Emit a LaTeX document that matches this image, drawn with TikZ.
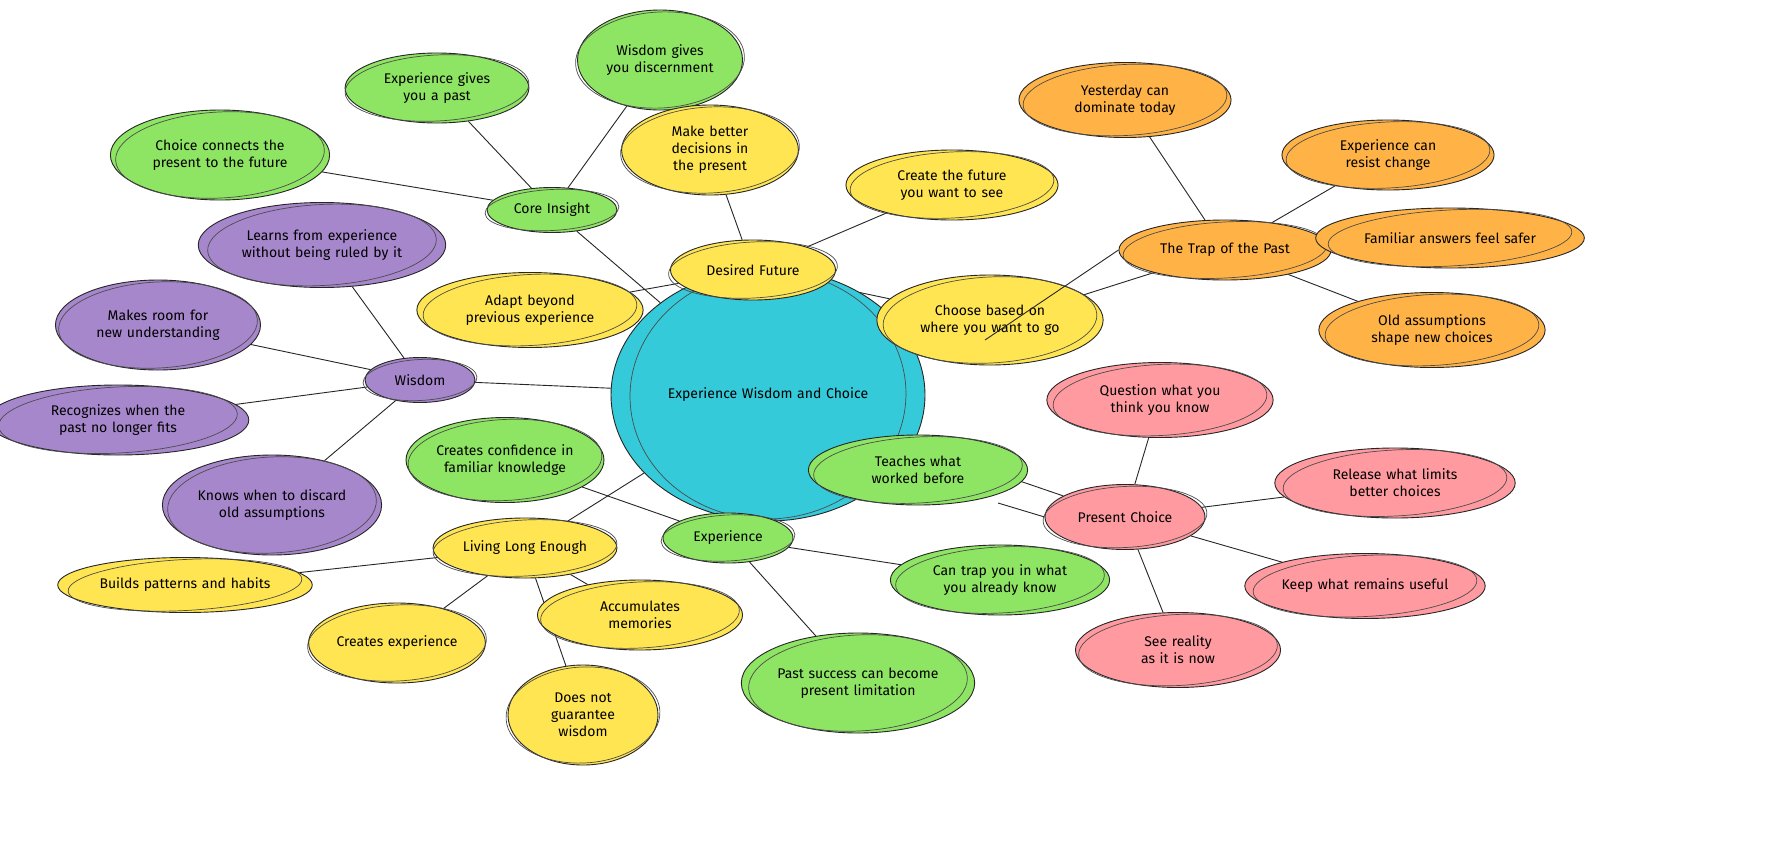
\documentclass[tikz,border=0pt]{standalone}
\usepackage{fontspec}
\usepackage[none]{hyphenat}
\setmainfont{Fira Sans}
\usetikzlibrary{shapes.geometric,backgrounds}
\definecolor{cg}{HTML}{8EE463}
\definecolor{cy}{HTML}{FFE552}
\definecolor{cp}{HTML}{A687CC}
\definecolor{co}{HTML}{FFB347}
\definecolor{cr}{HTML}{FF9AA0}
\definecolor{cc}{HTML}{35CAD9}
\tikzset{
  bub/.style={ellipse,draw=black!85,line width=0.9pt,inner sep=0pt,align=center,
    font=\fontsize{14}{17}\selectfont},
  link/.style={draw=black!85,line width=0.9pt}
}
\newcommand{\bub}[7]{%
  \node[bub,fill=#6,minimum width=#4,minimum height=#5,text width=#4-50] (#1) at (#2,#3) {#7};
  \draw[black!70,line width=0.7pt,rotate around={3:(#1.center)}] (#1.center) ellipse ({#4/2+2} and {#5/2-2});
}
\begin{document}
\begin{tikzpicture}[x=1pt,y=-1pt]
\useasboundingbox (0,0) rectangle (1765,852);
\bub{c}{768}{395}{272}{252}{cc}{Experience Wisdom and Choice}
\bub{ci}{552}{210}{130}{45}{cg}{Core Insight}
\bub{ci1}{437}{88}{180}{70}{cg}{Experience gives you a past}
\bub{ci2}{660}{60}{165}{100}{cg}{Wisdom gives you discernment}
\bub{ci3}{220}{155}{205}{90}{cg}{Choice connects the present to the future}
\bub{df}{753}{270}{165}{60}{cy}{Desired Future}
\bub{df1}{710}{150}{175}{90}{cy}{Make better decisions in the present}
\bub{df2}{952}{185}{200}{70}{cy}{Create the future you want to see}
\bub{df3}{530}{310}{210}{75}{cy}{Adapt beyond previous experience}
\bub{df4}{990}{320}{210}{90}{cy}{Choose based on where you want to go}
\bub{tp}{1225}{250}{200}{60}{co}{The Trap of the Past}
\bub{tp1}{1125}{100}{200}{75}{co}{Yesterday can dominate today}
\bub{tp2}{1388}{155}{200}{70}{co}{Experience can resist change}
\bub{tp3}{1450}{238}{240}{60}{co}{Familiar answers feel safer}
\bub{tp4}{1432}{330}{210}{75}{co}{Old assumptions shape new choices}
\bub{w}{420}{380}{110}{45}{cp}{Wisdom}
\bub{w1}{322}{245}{225}{85}{cp}{Learns from experience without being ruled by it}
\bub{w2}{158}{325}{195}{90}{cp}{Makes room for new understanding}
\bub{w3}{118}{420}{235}{70}{cp}{Recognizes when the past no longer fits}
\bub{w4}{272}{505}{205}{100}{cp}{Knows when to discard old assumptions}
\bub{e}{728}{538}{130}{50}{cg}{Experience}
\bub{e1}{505}{460}{190}{85}{cg}{Creates confidence in familiar knowledge}
\bub{e2}{918}{470}{205}{70}{cg}{Teaches what worked before}
\bub{e3}{1000}{580}{205}{70}{cg}{Can trap you in what you already know}
\bub{e4}{858}{683}{215}{100}{cg}{Past success can become present limitation}
\bub{l}{525}{548}{180}{60}{cy}{Living Long Enough}
\bub{l1}{185}{585}{230}{55}{cy}{Builds patterns and habits}
\bub{l2}{397}{643}{175}{80}{cy}{Creates experience}
\bub{l3}{640}{615}{195}{70}{cy}{Accumulates memories}
\bub{l4}{583}{715}{150}{100}{cy}{Does not guarantee wisdom}
\bub{p}{1125}{517}{160}{65}{cr}{Present Choice}
\bub{p1}{1160}{400}{210}{75}{cr}{Question what you think you know}
\bub{p2}{1395}{483}{220}{70}{cr}{Release what limits better choices}
\bub{p3}{1365}{586}{220}{65}{cr}{Keep what remains useful}
\bub{p4}{1178}{650}{195}{75}{cr}{See reality as it is now}
\begin{scope}[on background layer]
\fill[white] (0,0) rectangle (1765,852);
\foreach \a/\b in {c/ci,c/df,c/w,c/e,c/l,ci/ci1,ci/ci2,ci/ci3,df/df1,df/df2,df/df3,
  tp/tp1,tp/tp2,tp/tp3,tp/tp4,w/w1,w/w2,w/w3,w/w4,e/e1,e/e3,e/e4,
  l/l1,l/l2,l/l3,l/l4,p/p1,p/p2,p/p3,p/p4,df/df4,c/tp,c/p,e/e2}
  \draw[link] (\a) -- (\b);
\end{scope}
\draw[link] (tp.west) -- (985,340);
\draw[link] (p.west) -- (998,503);
\end{tikzpicture}
\end{document}
